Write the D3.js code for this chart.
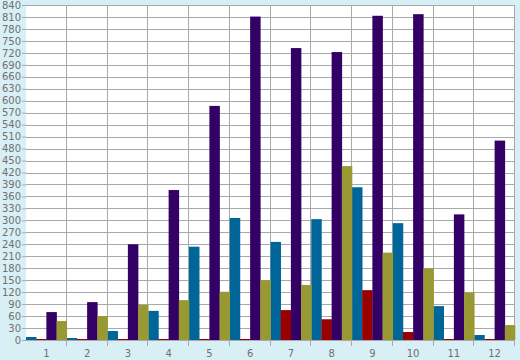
<!DOCTYPE html>
<html>
<head>
<meta charset="utf-8">
<script src="https://cdn.jsdelivr.net/npm/d3@7"></script>
<style>
  body { margin: 0; background: #d9eff6; }
  text { font-family: "DejaVu Sans", sans-serif; font-size: 10px; fill: #707070; }
</style>
</head>
<body>
<div id="chart"></div>
<script>
// categories and series
const categories = ["1", "2", "3", "4", "5", "6", "7", "8", "9", "10", "11", "12"];
const seriesNames = ["blue", "red", "purple", "olive"];
const blueVals   = [7.5, 5, 22.5, 73, 234, 306, 246, 303, 383, 293, 85, 12.5];
const redVals    = [2.5, 2.5, 2.5, 2.5, 2.5, 2.5, 75, 52, 125, 20, 2.5, 2.5];
const purpleVals = [70, 95, 240, 376, 587, 811, 732, 722, 813, 817, 315, 500];
const oliveVals  = [47.5, 60, 88, 100, 121, 150, 138, 436, 219, 180, 119, 37.5];
const yTicks = d3.range(0, 841, 30);

const colors = { blue: "#006699", red: "#990000", purple: "#330066", olive: "#999933" };
const seriesData = { blue: blueVals, red: redVals, purple: purpleVals, olive: oliveVals };

const W = 520, H = 360;
const margin = { top: 5, right: 5, bottom: 20, left: 26 },
      width = W - margin.left - margin.right,
      height = H - margin.top - margin.bottom;

const svg = d3.select("#chart")
  .append("svg")
  .attr("width", W)
  .attr("height", H)
  .append("g")
  .attr("transform", `translate(${margin.left},${margin.top})`);

const x = d3.scaleBand().domain(categories).range([0, width]).padding(0);
const xs = d3.scaleBand().domain(seriesNames).range([0, x.bandwidth()]).padding(0);
const y = d3.scaleLinear().domain([0, 840]).range([height, 0]);

// plot background
svg.append("rect")
  .attr("width", width)
  .attr("height", height)
  .attr("fill", "#fff");

// horizontal grid
svg.selectAll("line.hgrid")
  .data(yTicks)
  .enter()
  .append("line")
  .attr("class", "hgrid")
  .attr("x1", 0)
  .attr("x2", width)
  .attr("y1", d => Math.round(y(d)) + 0.5)
  .attr("y2", d => Math.round(y(d)) + 0.5)
  .attr("stroke", "#a9a9a9");

// vertical grid at category boundaries
const bounds = categories.map(c => x(c) + x.bandwidth());
svg.selectAll("line.vgrid")
  .data(bounds)
  .enter()
  .append("line")
  .attr("class", "vgrid")
  .attr("x1", d => Math.round(d) - 0.5)
  .attr("x2", d => Math.round(d) - 0.5)
  .attr("y1", 0)
  .attr("y2", height + 6)
  .attr("stroke", "#a9a9a9");

// bars
seriesNames.forEach(s => {
  svg.selectAll(`rect.${s}`)
    .data(seriesData[s])
    .enter()
    .append("rect")
    .attr("class", s)
    .attr("x", (d, i) => x(categories[i]) + xs(s))
    .attr("y", d => y(d))
    .attr("width", xs.bandwidth() + 0.3)
    .attr("height", d => height - y(d))
    .attr("fill", colors[s]);
});

// y axis
const yAxis = svg.append("g")
  .call(d3.axisLeft(y).tickValues(yTicks).tickSize(4).tickPadding(1));
yAxis.select(".domain").remove();
yAxis.selectAll(".tick line").attr("stroke", "#a9a9a9");

// x labels
svg.selectAll("text.xlab")
  .data(categories)
  .enter()
  .append("text")
  .attr("class", "xlab")
  .attr("x", d => x(d) + x.bandwidth() / 2)
  .attr("y", height + 17)
  .attr("text-anchor", "middle")
  .text(d => d);
</script>
</body>
</html>
